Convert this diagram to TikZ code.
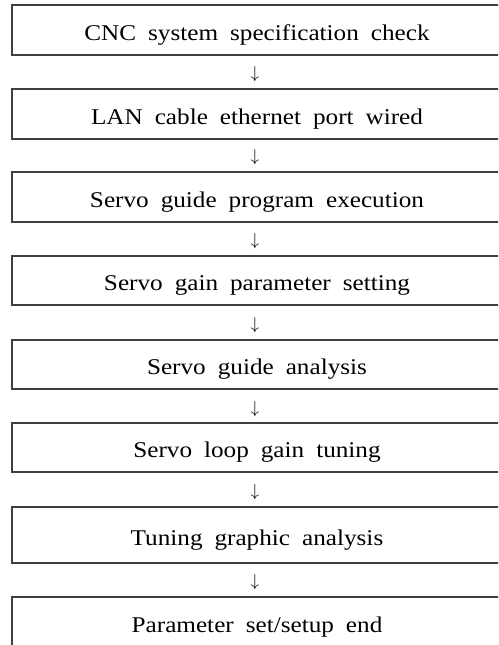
\documentclass[tikz,border=0pt]{standalone}
\usepackage{fontspec}
\setmainfont{Liberation Serif}[WordSpace=1.9, FakeStretch=1.12]
\begin{document}
\begin{tikzpicture}[x=1pt,y=-1pt,
  stepbox/.style={draw=black!75, line width=1.1pt, minimum width=490pt,
    inner sep=0pt, text height=20pt, text depth=0pt,
    font=\fontsize{22.5}{26}\selectfont},
  flowarrow/.style={inner sep=0pt, font=\fontsize{18}{20}\selectfont}]
  \useasboundingbox (0,0) rectangle (498,645);
  \clip (0,0) rectangle (498,645);
  % process steps (boxes run off the right edge)
  \node[stepbox, minimum height=50pt] (s1) at (257,30)    {CNC system specification check};
  \node[stepbox, minimum height=50pt] (s2) at (257,114)   {LAN cable ethernet port wired};
  \node[stepbox, minimum height=50pt] (s3) at (257,197)   {Servo guide program execution};
  \node[stepbox, minimum height=49pt] (s4) at (257,280.5) {Servo gain parameter setting};
  \node[stepbox, minimum height=49pt] (s5) at (257,364.5) {Servo guide analysis};
  \node[stepbox, minimum height=49pt] (s6) at (257,447.5) {Servo loop gain tuning};
  \node[stepbox, minimum height=56pt] (s7) at (257,535)   {Tuning graphic analysis};
  \node[stepbox, minimum height=50pt] (s8) at (257,622)   {Parameter set/setup end};
  % arrows between the steps
  \node[flowarrow] (a1) at (255,74)  {$\downarrow$};
  \node[flowarrow] (a2) at (255,157) {$\downarrow$};
  \node[flowarrow] (a3) at (255,241) {$\downarrow$};
  \node[flowarrow] (a4) at (255,325) {$\downarrow$};
  \node[flowarrow] (a5) at (255,409) {$\downarrow$};
  \node[flowarrow] (a6) at (255,492) {$\downarrow$};
  \node[flowarrow] (a7) at (255,582) {$\downarrow$};
\end{tikzpicture}
\end{document}
